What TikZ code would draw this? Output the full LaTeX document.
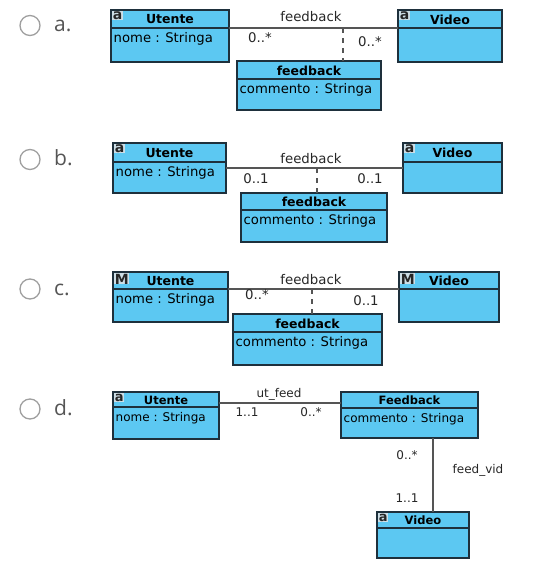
\documentclass[tikz,border=0pt]{standalone}
\usepackage{fontspec}
\setmainfont{DejaVu Sans}
\newfontfamily\optfont{Open Sans}
\definecolor{umlfill}{RGB}{92,200,242}
\definecolor{umlline}{RGB}{30,48,60}
\definecolor{assoc}{RGB}{85,85,85}
\definecolor{optgray}{RGB}{85,85,85}
\definecolor{iconbg}{RGB}{205,222,230}
\tikzset{
  classbox/.style={draw=umlline, fill=umlfill, line width=1.2pt, inner sep=0pt, outer sep=0pt},
  classline/.style={draw=umlline, line width=1.2pt},
  titletext/.style={font=\fontsize{12.5}{14}\selectfont\bfseries, inner sep=0pt},
  attrtext/.style={font=\fontsize{13.2}{15}\selectfont, inner sep=0pt},
  icontext/.style={font=\fontsize{14}{15}\selectfont\bfseries, fill=iconbg, inner sep=0.4pt, text=black!85},
  asso/.style={draw=assoc, line width=1.1pt},
  dashline/.style={draw=assoc, line width=1.1pt, dash pattern=on 5pt off 5pt},
  lab/.style={font=\fontsize{13.3}{15}\selectfont, inner sep=0pt, text=black!85},
  radio/.style={draw=gray!75, line width=1.3pt, circle, minimum size=20pt, inner sep=0pt},
  optlab/.style={font=\optfont\fontsize{21}{24}\selectfont, text=optgray, inner sep=0pt, anchor=base west},
  smallscale/.style={
    titletext/.style={font=\fontsize{11.5}{13}\selectfont\bfseries, inner sep=0pt},
    attrtext/.style={font=\fontsize{12}{14}\selectfont, inner sep=0pt},
    icontext/.style={font=\fontsize{13}{14}\selectfont\bfseries, fill=iconbg, inner sep=0.4pt, text=black!85},
    lab/.style={font=\fontsize{12}{14}\selectfont, inner sep=0pt, text=black!85}},
}
% name, left, top, right, bottom, divider, title, attribute, icon
\newcommand\umlclass[9]{%
  \node[classbox, minimum width={(#4)-(#2)}, minimum height={(#5)-(#3)}] (#1) at ({((#2)+(#4))/2},{((#3)+(#5))/2}) {};
  \draw[classline] (#1.west |- 0,#6) -- (#1.east |- 0,#6);
  \node[titletext] (#1-t) at ({((#2)+(#4))/2},{((#3)+(#6))/2+0.5}) {#7};
  \node[attrtext, anchor=west] (#1-a) at ({(#2)+2.5},{(#6)+11}) {#8};
  \if\relax\detokenize{#9}\relax\else
    \node[icontext, anchor=north west] (#1-i) at ({(#2)+1.2},{(#3)+1.2}) {#9};
  \fi
}
\begin{document}
\begin{tikzpicture}[x=1pt, y=-1pt]
\useasboundingbox (0,0) rectangle (550,566);

% ---------- a ----------
\node[radio] (ra) at (30,25.5) {};
\node[optlab] (la) at (54,31) {a.};
\umlclass{Ua}{111}{10}{229}{62}{28}{Utente}{nome : Stringa}{a}
\umlclass{Va}{398}{10}{502}{62}{28}{Video}{}{a}
\umlclass{Fa}{237}{61}{381}{110}{79}{feedback}{commento : Stringa}{}
\coordinate (aL) at (311,28);
\coordinate (aD) at (343,28);
\draw[asso] (Ua.east |- aL) -- (Va.west |- aL);
\draw[dashline] (aD) -- (Fa.north -| aD);
\node[lab] (aN) at (311,17) {feedback};
\node[lab] (aM1) at (260,38) {0..*};
\node[lab] (aM2) at (370,42) {0..*};

% ---------- b ----------
\node[radio] (rb) at (30,159.5) {};
\node[optlab] (lb) at (54,165) {b.};
\umlclass{Ub}{113}{143}{226}{193}{162}{Utente}{nome : Stringa}{a}
\umlclass{Vb}{403}{143}{502}{193}{162}{Video}{}{a}
\umlclass{Fb}{241}{193}{387}{242}{210}{feedback}{commento : Stringa}{}
\coordinate (bL) at (311,168);
\coordinate (bD) at (317,168);
\draw[asso] (Ub.east |- bL) -- (Vb.west |- bL);
\draw[dashline] (bD) -- (Fb.north -| bD);
\node[lab] (bN) at (311,159) {feedback};
\node[lab] (bM1) at (256,179) {0..1};
\node[lab] (bM2) at (370,179) {0..1};

% ---------- c ----------
\node[radio] (rc) at (30,289) {};
\node[optlab] (lc) at (54,295) {c.};
\umlclass{Uc}{113}{272}{228}{322}{289}{Utente}{nome : Stringa}{M}
\umlclass{Vc}{399}{272}{499}{322}{289}{Video}{}{M}
\umlclass{Fc}{233}{314}{382}{365}{332}{feedback}{commento : Stringa}{}
\coordinate (cL) at (311,289);
\coordinate (cD) at (312,289);
\draw[asso] (Uc.east |- cL) -- (Vc.west |- cL);
\draw[dashline] (cD) -- (Fc.north -| cD);
\node[lab] (cN) at (311,280) {feedback};
\node[lab] (cM1) at (257,295) {0..*};
\node[lab] (cM2) at (366,301) {0..1};

% ---------- d ----------
\node[radio] (rd) at (30,409) {};
\node[optlab] (ld) at (54,415) {d.};
\begin{scope}[smallscale]
\umlclass{Ud}{113}{392}{219}{439}{407}{Utente}{nome : Stringa}{a}
\umlclass{Fd}{341}{392}{478}{438}{408}{Feedback}{commento : Stringa}{}
\umlclass{Vd}{377}{512}{469}{558}{528}{Video}{}{a}
\coordinate (dL) at (280,403);
\coordinate (dV) at (433,470);
\draw[asso] (Ud.east |- dL) -- (Fd.west |- dL);
\draw[asso] (Fd.south -| dV) -- (Vd.north -| dV);
\node[lab] (dN1) at (279,394) {ut\_feed};
\node[lab] (dM1) at (247,412) {1..1};
\node[lab] (dM2) at (311,412) {0..*};
\node[lab] (dM3) at (407,455) {0..*};
\node[lab] (dN2) at (478,470) {feed\_vid};
\node[lab] (dM4) at (407,498) {1..1};
\end{scope}
\end{tikzpicture}
\end{document}
